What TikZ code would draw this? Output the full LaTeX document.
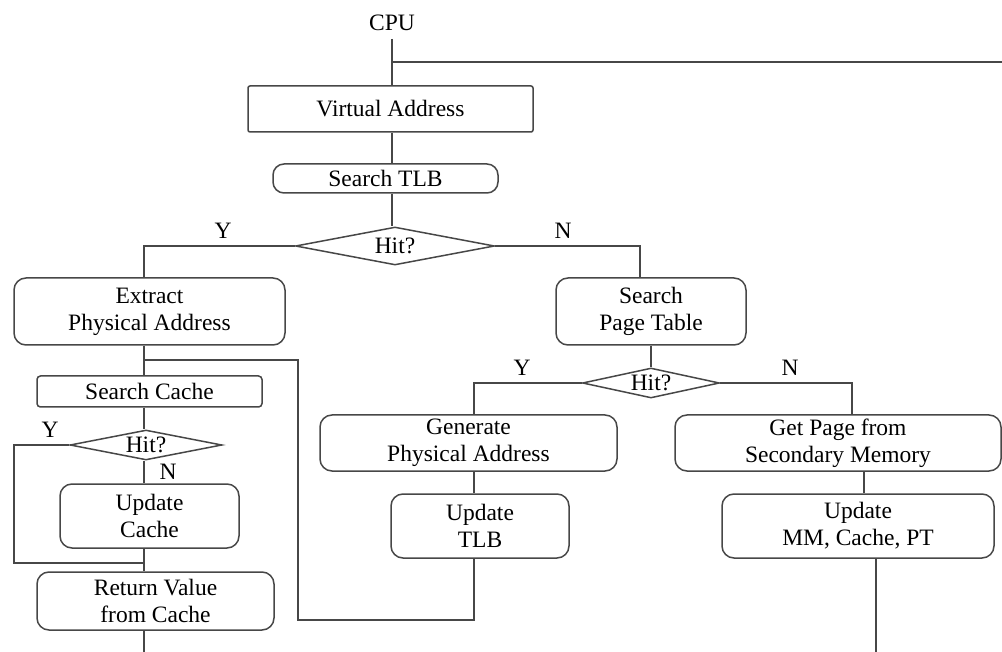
\documentclass[tikz,border=0pt]{standalone}
\usepackage{fontspec}
\setmainfont{Liberation Serif}
\usetikzlibrary{shapes.geometric,calc}
\begin{document}
\begin{tikzpicture}[x=1pt,y=-1pt,
  every node/.style={font=\fontsize{23.5}{27}\selectfont, align=center, inner sep=0pt},
  ln/.style={draw=black!72, line width=1.5pt},
  sq/.style={ln, rectangle, rounded corners=2pt},
  sc/.style={ln, rectangle, rounded corners=3.5pt},
  rb/.style={ln, rectangle, rounded corners=12pt},
  dm/.style={ln, diamond, aspect=5},
  lab/.style={font=\fontsize{23.5}{27}\selectfont},
  conn/.style={draw=black!72, line width=1.5pt}
]
\useasboundingbox (0,0) rectangle (1002,652);
% column coordinates
\coordinate (C) at (392,0);
\coordinate (L) at (144,0);
\coordinate (T) at (474,0);
\coordinate (R) at (864,0);
\coordinate (RB) at (876,0);

\node (cpu) at (392,23) {CPU};
\node[sq, minimum width=285pt, minimum height=46pt] (va) at (390.5,109) {Virtual Address};
\node[rb, rounded corners=11pt, minimum width=225pt, minimum height=29pt] (tlb) at (385.5,178.5) {Search TLB};
\node[dm, minimum width=199pt, minimum height=38pt] (hit1) at (395,246) {Hit?};
\node[lab] (y1) at (223,231) {Y};
\node[lab] (n1) at (563,231) {N};
\node[rb, minimum width=271pt, minimum height=67pt] (ext) at (149.5,311.5) {Extract\\Physical Address};
\node[rb, minimum width=190pt, minimum height=67pt] (spt) at (651,311.5) {Search\\Page Table};

\node[sc, minimum width=225pt, minimum height=31pt] (scache) at (149.5,391.5) {Search Cache};
\node[dm, minimum width=152pt, minimum height=30pt] (hit2) at (146,445) {Hit?};
\node[lab] (y2) at (50,430) {Y};
\node[lab] (n2) at (168,472) {N};
\node[rb, minimum width=179pt, minimum height=64pt] (ucache) at (149.5,516) {Update\\Cache};
\node[rb, minimum width=237pt, minimum height=58pt] (ret) at (155.5,601) {Return Value\\from Cache};

\node[dm, minimum width=137pt, minimum height=30pt] (hit3) at (651,383) {Hit?};
\node[lab] (y3) at (522,368) {Y};
\node[lab] (n3) at (790,368) {N};
\node[rb, minimum width=297pt, minimum height=56pt] (gen) at (468.5,443) {Generate\\Physical Address};
\node[rb, minimum width=178pt, minimum height=64pt] (utlb) at (480,526) {Update\\TLB};
\node[rb, minimum width=326pt, minimum height=56pt] (getp) at (838,443) {Get Page from\\Secondary Memory};
\node[rb, minimum width=272pt, minimum height=64pt] (umm) at (858,526) {Update\\MM, Cache, PT};

\coordinate (tap) at (392,62);
\coordinate (topR) at (1002,62);
\coordinate (b1) at (144,360);
\coordinate (j) at (144,563);

% connectors
\draw[conn] (392,39) -- (va.north -| C);
\draw[conn] (tap) -- (topR);
\draw[conn] (va.south -| C) -- (tlb.north -| C);
\draw[conn] (tlb.south -| C) -- (hit1.north -| C);
\draw[conn] (hit1.west) -| (ext.north -| L);
\draw[conn] (hit1.east) -| ($(spt.north)+(-11,0)$);
\draw[conn] (ext.south -| L) -- (scache.north -| L);
\draw[conn] (b1) -- (298,360) |- (474,620) -- (utlb.south -| T);
\draw[conn] (scache.south -| L) -- (hit2.north -| L);
\draw[conn] (hit2.west) -| (14,563) -- (j);
\draw[conn] (hit2.south -| L) -- (ucache.north -| L);
\draw[conn] (ucache.south -| L) -- (ret.north -| L);
\draw[conn] (ret.south -| L) -- (144,652);
\draw[conn] (spt.south) -- (hit3.north);
\draw[conn] (hit3.west) -| (gen.north -| T);
\draw[conn] (hit3.east) -| ($(getp.north)+(14,0)$);
\draw[conn] (gen.south -| T) -- (utlb.north -| T);
\draw[conn] (getp.south -| R) -- (umm.north -| R);
\draw[conn] (umm.south -| RB) -- (876,652);
\end{tikzpicture}
\end{document}
